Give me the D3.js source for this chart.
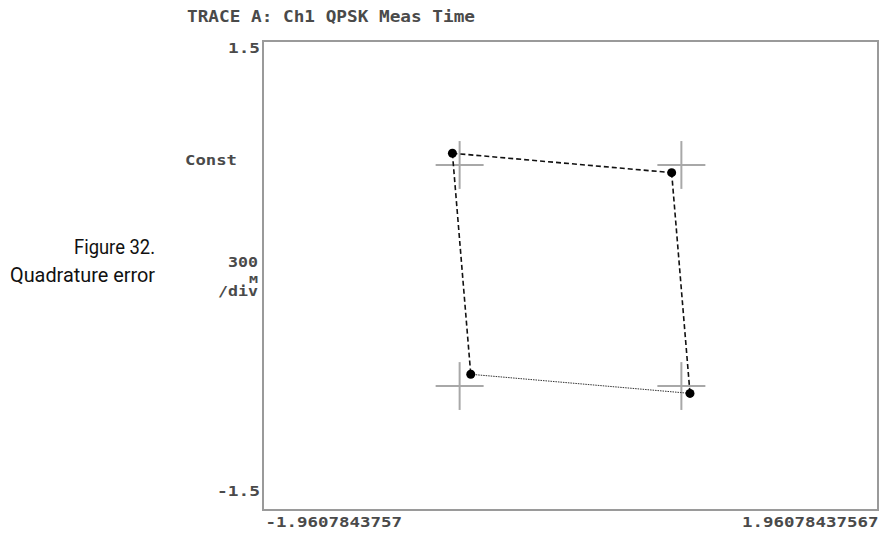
<!DOCTYPE html>
<html>
<head>
<meta charset="utf-8">
<script src="https://cdn.jsdelivr.net/npm/d3@7"></script>
<style>
  html, body { margin: 0; padding: 0; background: #fff; }
  svg { display: block; }
</style>
</head>
<body>
<svg id="chart" width="879" height="533"></svg>
<script>
// ---- data ----
const xDomain = [-1.9607843757, 1.96078437567];
const yDomain = [-1.5, 1.5];
const xTickLabels = ["-1.9607843757", "1.96078437567"];
const yTopLabel = "1.5";
const yBottomLabel = "-1.5";
const titleText = "TRACE A: Ch1 QPSK Meas Time";
const captionLines = ["Figure 32.", "Quadrature error"];
// ideal QPSK constellation points (I, Q)
const idealI = [-0.707, 0.707, -0.707, 0.707];
const idealQ = [0.707, 0.707, -0.707, -0.707];
// measured symbols (I, Q): TL, TR, BL, BR
const measI = [-0.753, 0.645, -0.636, 0.762];
const measQ = [0.782, 0.658, -0.632, -0.754];
// trace segments between measured symbols (index pairs)
const segFrom = [0, 1, 0, 2];
const segTo   = [1, 3, 2, 3];
const crossArm = 0.153;

// ---- layout ----
const svg = d3.select("#chart");
const L = 263, R = 878, T = 41, B = 510;
const x = d3.scaleLinear().domain(xDomain).range([L, R]);
const y = d3.scaleLinear().domain(yDomain).range([B, T]);

const monoFont = "'DejaVu Sans Mono', 'Liberation Mono', monospace";
const textCol = "#4a4a4a";

function monoText(str, px, py, size, anchor, len) {
  const t = svg.append("text")
    .attr("x", px).attr("y", py)
    .attr("font-family", monoFont)
    .attr("font-size", size)
    .attr("font-weight", "bold")
    .attr("fill", textCol)
    .attr("text-anchor", anchor || "start")
    .text(str);
  if (len) t.attr("textLength", len).attr("lengthAdjust", "spacingAndGlyphs");
  return t;
}

// frame
svg.append("rect")
  .attr("x", L).attr("y", T)
  .attr("width", R - L).attr("height", B - T)
  .attr("fill", "none")
  .attr("stroke", "#9a9a9a")
  .attr("stroke-width", 2);

// axis labels via d3 axes (only end labels)
const xAxis = d3.axisBottom(x)
  .tickValues(xDomain)
  .tickSize(0)
  .tickFormat((d, i) => xTickLabels[i]);
const gx = svg.append("g").attr("transform", `translate(0,${B})`).call(xAxis);
gx.select(".domain").remove();
gx.selectAll("text")
  .attr("font-family", monoFont)
  .attr("font-size", 14)
  .attr("font-weight", "bold")
  .attr("fill", textCol)
  .attr("dy", null)
  .attr("y", 17)
  .attr("text-anchor", (d, i) => i === 0 ? "start" : "end")
  .attr("x", (d, i) => i === 0 ? 2 : 0)
  .attr("textLength", (d, i) => xTickLabels[i].length * 10.5)
  .attr("lengthAdjust", "spacingAndGlyphs");

// title
monoText(titleText, 187, 22, 15, "start", 288);
// y labels
monoText(yTopLabel, 260, 53, 14, "end", 32);
monoText(yBottomLabel, 260, 496, 14, "end", 43);
monoText("Const", 185, 165, 14, "start", 52);
monoText("300", 258, 267, 14, "end", 30);
monoText("M", 258, 283, 9, "end", 9);
monoText("/div", 258, 296, 14, "end", 40);

// caption
svg.append("text")
  .attr("x", 155).attr("y", 254)
  .attr("font-family", "Roboto, 'Liberation Sans', sans-serif")
  .attr("font-size", 20.5)
  .attr("fill", "#111")
  .attr("text-anchor", "end")
  .attr("textLength", 81).attr("lengthAdjust", "spacingAndGlyphs")
  .text(captionLines[0]);
svg.append("text")
  .attr("x", 155).attr("y", 282)
  .attr("font-family", "Roboto, 'Liberation Sans', sans-serif")
  .attr("font-size", 20.5)
  .attr("fill", "#111")
  .attr("text-anchor", "end")
  .attr("textLength", 145).attr("lengthAdjust", "spacingAndGlyphs")
  .text(captionLines[1]);

// ideal crosses
const crosses = svg.append("g").attr("stroke", "#a8a8a8").attr("stroke-width", 2);
idealI.forEach((iv, k) => {
  const qv = idealQ[k];
  crosses.append("line")
    .attr("x1", x(iv - crossArm)).attr("x2", x(iv + crossArm))
    .attr("y1", y(qv)).attr("y2", y(qv));
  crosses.append("line")
    .attr("x1", x(iv)).attr("x2", x(iv))
    .attr("y1", y(qv + crossArm)).attr("y2", y(qv - crossArm));
});

// trace segments
segFrom.forEach((a, k) => {
  const b = segTo[k];
  const dotted = (a === 2 && b === 3);
  svg.append("line")
    .attr("x1", x(measI[a])).attr("y1", y(measQ[a]))
    .attr("x2", x(measI[b])).attr("y2", y(measQ[b]))
    .attr("stroke", dotted ? "#333" : "#111")
    .attr("stroke-width", dotted ? 1 : 1.6)
    .attr("stroke-dasharray", dotted ? "1.5,1" : "5,3");
});

// measured symbol dots
svg.append("g").selectAll("circle")
  .data(measI.map((v, k) => [v, measQ[k]]))
  .join("circle")
  .attr("cx", d => x(d[0]))
  .attr("cy", d => y(d[1]))
  .attr("r", 4.5)
  .attr("fill", "#000");
</script>
</body>
</html>
